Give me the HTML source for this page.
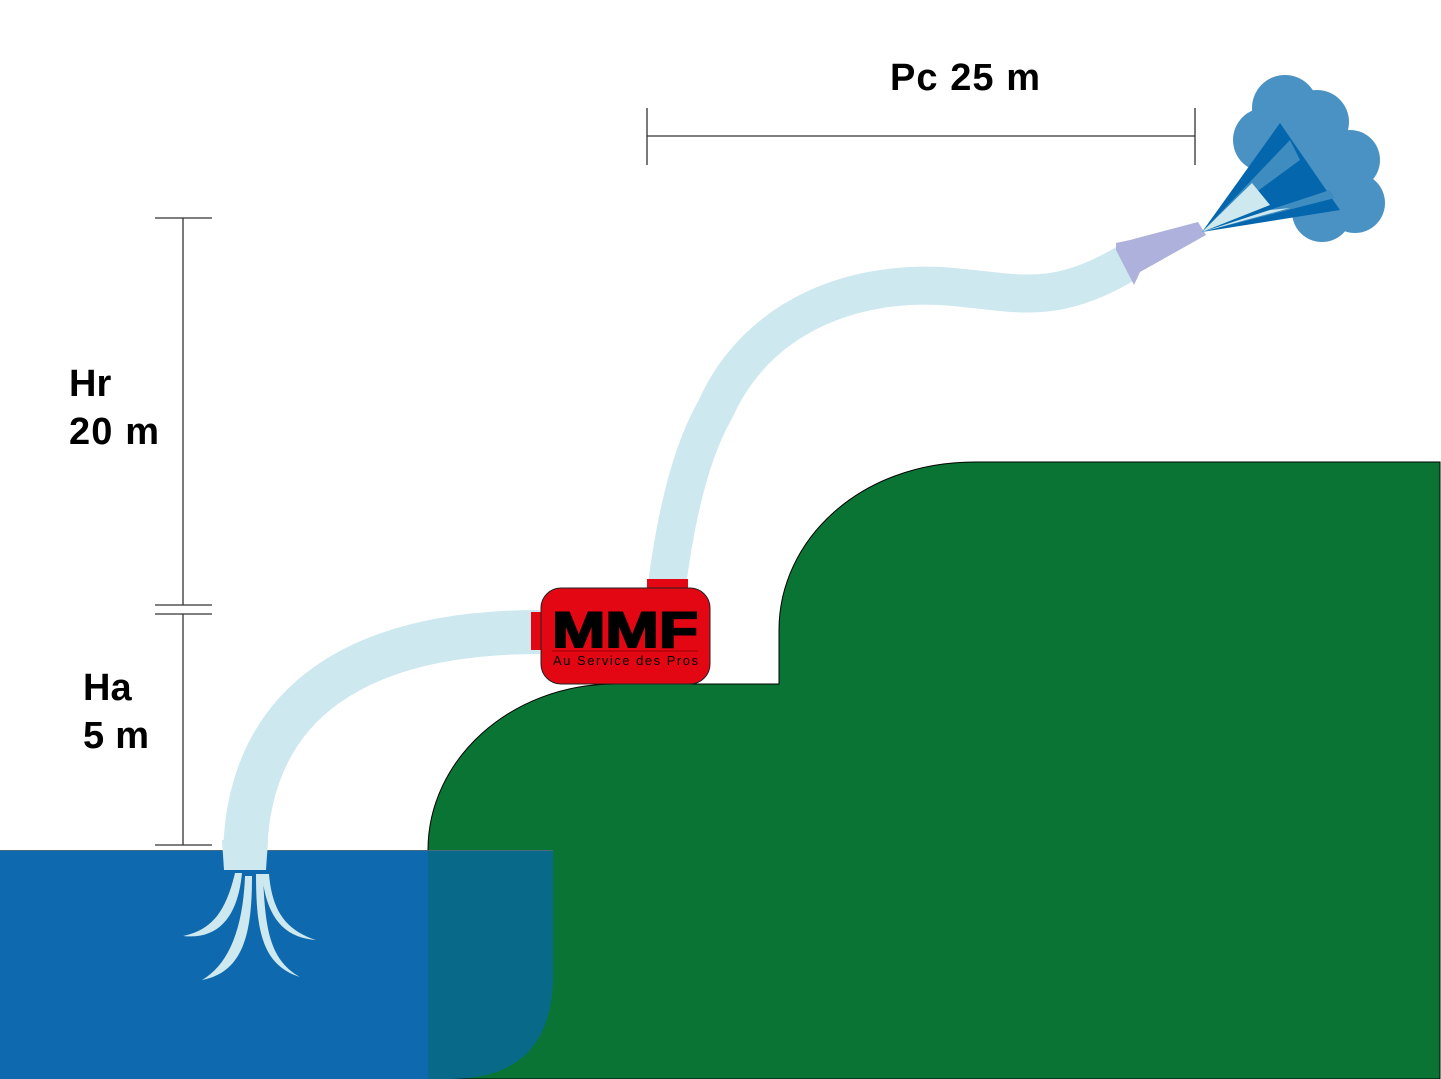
<!DOCTYPE html>
<html><head><style>body{margin:0;background:#fff}svg{display:block}text{font-family:"Liberation Sans",sans-serif;font-weight:bold}</style></head><body>
<svg width="1441" height="1079" viewBox="0 0 1441 1079" xmlns="http://www.w3.org/2000/svg">
<rect width="1441" height="1079" fill="#fff"/>
<path d="M428,1079 L428,850 C428,760 510,684 615,684 L779,684 L779,630 C779,540 860,462 975,462 L1440,462 L1440,1079 Z" fill="#0a7434" stroke="#000" stroke-width="1"/>
<rect x="0" y="851" width="428" height="228" fill="#0e69ae"/>
<path d="M428,851 L553,851 L553,975 Q553,1079 450,1079 L428,1079 Z" fill="#086a88"/>
<line x1="0" y1="850.5" x2="553" y2="850.5" stroke="#4a6a80" stroke-width="1"/>
<g stroke="#333" stroke-width="1.3" fill="none">
<line x1="647" y1="136" x2="1195" y2="136"/><line x1="647" y1="108" x2="647" y2="165"/><line x1="1195" y1="108" x2="1195" y2="165"/>
<line x1="183" y1="218" x2="183" y2="605"/><line x1="155" y1="218" x2="212" y2="218"/><line x1="155" y1="605" x2="212" y2="605"/>
<line x1="155" y1="614" x2="212" y2="614"/><line x1="183" y1="614" x2="183" y2="845"/><line x1="155" y1="845" x2="212" y2="845"/>
</g>
<text x="890" y="90" font-size="38" textLength="150">Pc 25 m</text>
<text x="69" y="396" font-size="38">Hr</text><text x="69" y="444" font-size="38" textLength="90">20 m</text>
<text x="83" y="700" font-size="38">Ha</text><text x="83" y="748" font-size="38" textLength="66">5 m</text>
<path d="M245,855 C248,700 360,632 540,632" fill="none" stroke="#cde8ef" stroke-width="44"/>
<polygon points="222,840 268,840 266,870 224,870" fill="#cde8ef"/>
<path d="M667,585 C678,500 695,445 715,410 C760,310 860,282 940,286 C1010,290 1050,310 1128,262" fill="none" stroke="#cde8ef" stroke-width="38"/>
<g fill="#cde8ef">
<path d="M235,873 C225,915 210,930 183,936 C220,940 238,915 242,873Z"/>
<path d="M245,876 C243,930 228,965 202,980 C245,972 252,930 252,876Z"/>
<path d="M256,874 C256,930 262,965 300,977 C270,960 265,930 263,874Z"/>
<path d="M262,874 C266,918 285,938 316,940 C285,930 272,910 269,874Z"/>
</g>
<rect x="531" y="612" width="14" height="38" fill="#e30613"/>
<rect x="647" y="579" width="41" height="11" fill="#e30613"/>
<rect x="541" y="588" width="169" height="96" rx="20" fill="#e30613" stroke="#222" stroke-width="1"/>
<text x="552" y="647" font-size="50" fill="#000" stroke="#000" stroke-width="2" textLength="146" lengthAdjust="spacingAndGlyphs">MMF</text>
<line x1="552" y1="651" x2="698" y2="651" stroke="#900" stroke-width="1"/>
<text x="553" y="665" font-size="13" fill="#000" style="font-weight:normal" textLength="145">Au Service des Pros</text>
<polygon points="1116,243 1130,240 1198,222 1206,235 1140,272 1134,285 1116,250" fill="#aeb1db"/>
<g fill="#4b92c4">
<circle cx="1285" cy="108" r="33"/><circle cx="1317" cy="122" r="32"/><circle cx="1350" cy="160" r="30"/>
<circle cx="1355" cy="203" r="30"/><circle cx="1322" cy="212" r="30"/><circle cx="1265" cy="140" r="32"/><circle cx="1300" cy="165" r="45"/>
</g>
<polygon points="1202,232 1280,123 1340,210" fill="#0466ac"/>
<polygon points="1202,232 1290,140 1300,160" fill="#3f8cc0"/>
<polygon points="1202,232 1252,183 1270,205" fill="#cde8ef"/>
<polygon points="1202,232 1330,190 1335,198" fill="#3f8cc0"/>
<polygon points="1202,232 1270,210 1290,208" fill="#cde8ef"/>
</svg>
</body></html>
